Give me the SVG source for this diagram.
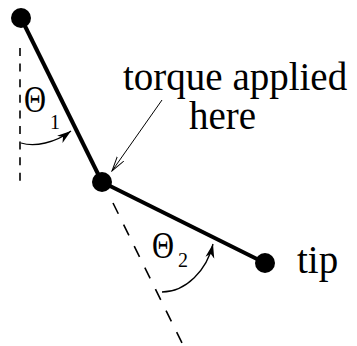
<svg xmlns="http://www.w3.org/2000/svg" width="357" height="346" viewBox="0 0 357 346">
<style>
.link{stroke:#000;stroke-width:4;fill:none}
.joint{fill:#000}
.dash1{stroke:#000;stroke-width:1.6;stroke-dasharray:8 7.6;fill:none}
.dash2{stroke:#000;stroke-width:1.6;stroke-dasharray:12 12;fill:none}
.arc{stroke:#000;stroke-width:1.3;fill:none}
.thin{stroke:#000;stroke-width:1;fill:none}
.lbl{font-family:"Liberation Serif","Times New Roman",serif;font-size:39px;fill:#000}
.greek{font-family:"Liberation Serif","Times New Roman",serif;font-size:37px;fill:#000}
.sub{font-family:"Liberation Serif","Times New Roman",serif;font-size:20px;fill:#000}
</style>
<defs>
<marker id="solid" markerUnits="userSpaceOnUse" markerWidth="16" markerHeight="10" refX="14" refY="4.5" orient="auto">
<path d="M0,0 L14,4.5 L0,9 L4,4.5 z" fill="#000"/>
</marker>
<marker id="open" markerUnits="userSpaceOnUse" markerWidth="16" markerHeight="10" refX="15" refY="4" orient="auto">
<path d="M0,0 L15,4 L0,8" fill="none" stroke="#000" stroke-width="1"/>
</marker>
</defs>
<g id="connectors">
<path class="dash1" d="M20,48 L20,182"/>
<path class="dash2" d="M113,203 L182,343"/>
<path id="link1" class="link" d="M21,18 L102,182"/>
<path id="link2" class="link" d="M102,182 L265,263"/>
<path id="arc1" class="arc" d="M21,143 C35,147 55,143 71,131" marker-end="url(#solid)"/>
<path id="arc2" class="arc" d="M162,292 C186,292 207,270 213,244" marker-end="url(#solid)"/>
<path id="torque-arrow" class="thin" d="M162,100 L112,171" marker-end="url(#open)"/>
</g>
<g id="base"><circle class="joint" cx="21" cy="18" r="10"/></g>
<g id="elbow"><circle class="joint" cx="102" cy="182" r="10"/></g>
<g id="tip"><circle class="joint" cx="265" cy="263" r="10"/>
<text class="lbl" x="297" y="273">tip</text></g>
<g id="theta1"><text class="greek" x="24" y="112" textLength="22" lengthAdjust="spacingAndGlyphs">Θ</text><text class="sub" x="50" y="129">1</text></g>
<g id="theta2"><text class="greek" x="152" y="258" textLength="22" lengthAdjust="spacingAndGlyphs">Θ</text><text class="sub" x="178" y="267">2</text></g>
<g id="torque-label">
<text class="lbl" x="123" y="90">torque applied</text>
<text class="lbl" x="189" y="129">here</text>
</g>
</svg>
